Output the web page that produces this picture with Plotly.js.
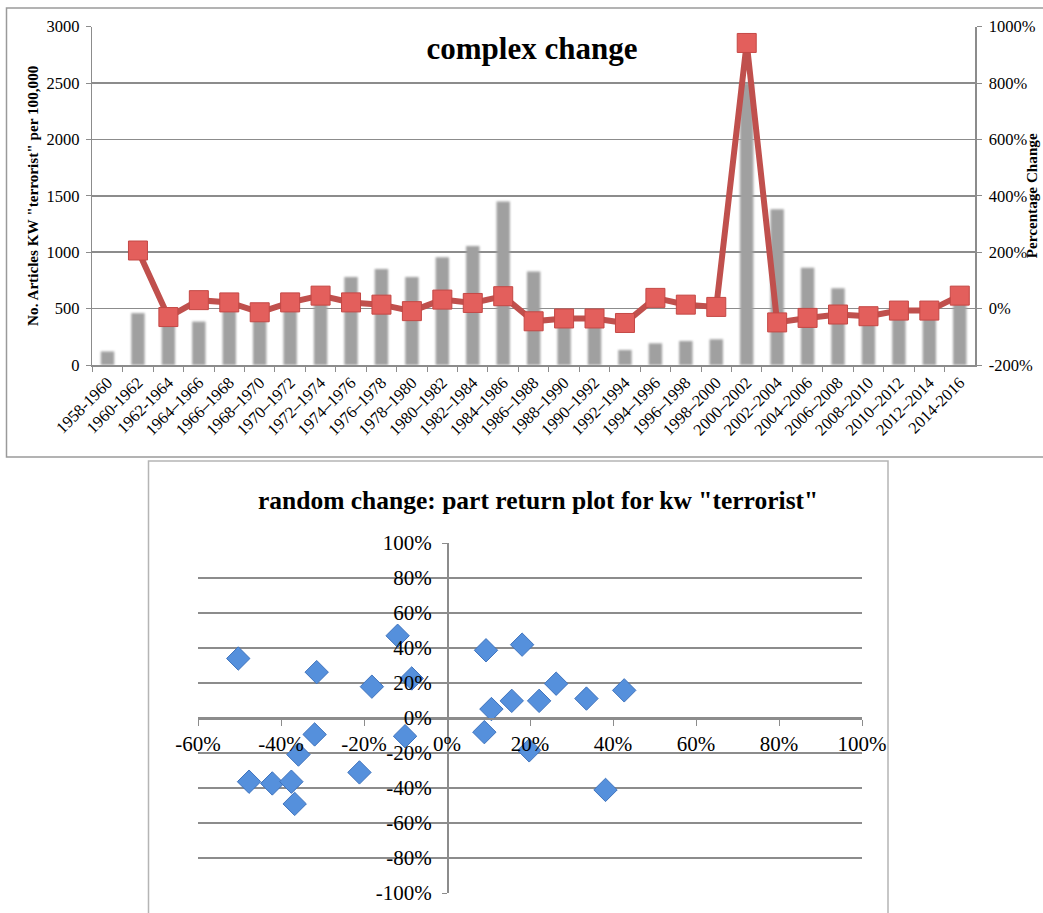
<!DOCTYPE html>
<html>
<head>
<meta charset="utf-8">
<script src="https://cdn.plot.ly/plotly-3.0.1.min.js"></script>
<style>
  html, body { margin: 0; padding: 0; background: #fff; }
  #chart { width: 1043px; height: 913px; }
</style>
</head>
<body>
<div id="chart"></div>
<script>
// ---------- data ----------
const periods = ["1958-1960","1960-1962","1962-1964","1964–1966","1966–1968","1968–1970","1970–1972","1972–1974","1974–1976","1976–1978","1978–1980","1980–1982","1982–1984","1984–1986","1986–1988","1988–1990","1990–1992","1992–1994","1994–1996","1996–1998","1998–2000","2000–2002","2002–2004","2004–2006","2006–2008","2008–2010","2010–2012","2012–2014","2014-2016"];
const articlesPer100k = [120,460,430,385,540,450,530,590,780,850,780,955,1055,1450,830,480,470,133,192,213,228,2500,1380,863,680,430,460,450,580];
const percentChange = [null,206,-30,30,22,-13,22,46,22,14,-9,32,20,44,-45,-35,-35,-51,38,14,6,942,-49,-33,-21,-27,-7,-7,46];

const returnX = [-50.3,-11.9,9.4,18.1,-31.4,-18.1,-8.5,26.3,42.7,15.6,22.2,33.6,10.7,-31.9,-10.1,9.0,-35.8,19.8,-21.1,-47.7,-42.1,-37.5,-36.7,38.2];
const returnY = [34,47,38.7,41.9,26.2,17.9,22.6,19.6,15.8,9.8,9.8,11.1,5.1,-9.4,-10.4,-8.1,-20.9,-18.5,-31.1,-36.4,-37.4,-36.4,-49.1,-41.1];

const returnXTicks = [-60,-40,-20,0,20,40,60,80,100];
const returnXLabels = ["-60%","-40%","-20%","0%","20%","40%","60%","80%","100%"];
const returnYTicks = [-100,-80,-60,-40,-20,0,20,40,60,80,100];
const returnYLabels = ["-100%","-80%","-60%","-40%","-20%","0%","20%","40%","60%","80%","100%"];
const pctTicks = [-200,0,200,400,600,800,1000];
const pctLabels = ["-200%","0%","200%","400%","600%","800%","1000%"];

const topTitle = "complex change";
const bottomTitle = 'random change: part return plot for kw "terrorist"';
const leftAxisTitle = 'No. Articles KW "terrorist" per 100,000';
const rightAxisTitle = 'Percentage Change';

// ---------- layout geometry ----------
const W = 1043, H = 913;
const px = v => v / W;
const py = v => 1 - v / H;
const FONT = "Liberation Serif, Times New Roman, serif";
const GRID = "#8c8c8c";

const topX = [px(92.3), px(975)];
const topY = [py(365), py(26.6)];
const scX = [px(198), px(862)];
const scY = [py(893), py(543)];
const scXRange = [-60, 100];
const scYRange = [-100, 100];

const bars = {
  type: "bar", x: periods, y: articlesPer100k, xaxis: "x", yaxis: "y",
  marker: { color: "#a0a0a0" }, width: 0.44, hoverinfo: "x+y", showlegend: false
};
const line = {
  type: "scatter", mode: "lines+markers", x: periods, y: percentChange,
  xaxis: "x", yaxis: "y2", connectgaps: false, showlegend: false,
  line: { color: "#c0504d", width: 6 },
  marker: { symbol: "square", size: 19, color: "#e35f5c", line: { color: "#c44845", width: 1 } }
};
const pts = {
  type: "scatter", mode: "markers", x: returnX, y: returnY, xaxis: "x3", yaxis: "y3",
  showlegend: false,
  marker: { symbol: "diamond", size: 18, color: "#5590dc", line: { color: "#3f73bd", width: 1 } }
};

const tickFont = { family: FONT, size: 16.5, color: "#000" };
const scFont = { family: FONT, size: 21, color: "#000" };
const layout = {
  width: W, height: H,
  margin: { l: 0, r: 0, t: 0, b: 0 },
  paper_bgcolor: "#fff", plot_bgcolor: "rgba(0,0,0,0)",
  font: { family: FONT, color: "#000" },
  showlegend: false,
  title: { text: topTitle, x: px(532), y: py(48), xanchor: "center", yanchor: "middle",
           font: { family: FONT, size: 31, weight: "bold", color: "#000" } },
  xaxis: {
    domain: topX, anchor: "y", type: "category", range: [-0.5, periods.length - 0.5],
    tickson: "boundaries", ticks: "outside", ticklen: 5, tickcolor: GRID,
    showline: true, linecolor: GRID, linewidth: 1.5, showgrid: false,
    tickangle: -45, tickfont: tickFont
  },
  yaxis: {
    domain: topY, anchor: "x", range: [0, 3000], dtick: 500,
    showgrid: true, gridcolor: GRID, gridwidth: 1.5, zeroline: false,
    showline: true, linecolor: GRID, linewidth: 1.5, ticks: "outside", ticklen: 5, tickcolor: GRID,
    tickfont: tickFont, ticklabelstandoff: 3,
    title: { text: leftAxisTitle, standoff: 4, font: { family: FONT, size: 15.2, weight: "bold", color: "#000" } }
  },
  yaxis2: {
    overlaying: "y", side: "right", anchor: "x", range: [-200, 1000],
    tickvals: pctTicks, ticktext: pctLabels,
    showgrid: false, zeroline: false,
    showline: true, linecolor: GRID, linewidth: 1.5, ticks: "outside", ticklen: 5, tickcolor: GRID,
    tickfont: tickFont, ticklabelstandoff: 4
  },
  xaxis3: {
    domain: scX, range: scXRange, tickvals: returnXTicks, ticktext: returnXLabels, anchor: "free",
    position: scY[0] + (0 - scYRange[0]) / (scYRange[1] - scYRange[0]) * (scY[1] - scY[0]),
    showgrid: false, zeroline: false, showline: true, linecolor: GRID, linewidth: 1.5,
    ticks: "outside", ticklen: 6, tickcolor: GRID,
    tickfont: scFont
  },
  yaxis3: {
    domain: scY, range: scYRange, tickvals: returnYTicks, ticktext: returnYLabels, anchor: "free",
    position: scX[0] + (0 - scXRange[0]) / (scXRange[1] - scXRange[0]) * (scX[1] - scX[0]),
    showgrid: true, gridcolor: GRID, gridwidth: 1.5, zeroline: false,
    showline: true, linecolor: GRID, linewidth: 1.5, ticks: "outside", ticklen: 5, tickcolor: GRID,
    tickfont: scFont, ticklabelstandoff: 6
  },
  annotations: [{
    text: bottomTitle, xref: "paper", yref: "paper", x: px(538), y: py(500),
    xanchor: "center", yanchor: "middle", showarrow: false,
    font: { family: FONT, size: 25.5, weight: "bold", color: "#000" }
  }, {
    text: rightAxisTitle, xref: "paper", yref: "paper", x: px(1042), y: (topY[0] + topY[1]) / 2,
    xanchor: "right", yanchor: "middle", showarrow: false, textangle: -90,
    font: { family: FONT, size: 15.2, weight: "bold", color: "#000" }
  }],
  shapes: [
    { type: "rect", xref: "paper", yref: "paper", x0: px(6.5), x1: px(1060), y0: py(457), y1: py(8),
      line: { color: "#9a9a9a", width: 1.5 }, fillcolor: "rgba(0,0,0,0)", layer: "below" },
    { type: "rect", xref: "paper", yref: "paper", x0: px(148.5), x1: px(888), y0: py(940), y1: py(461),
      line: { color: "#b5b5b5", width: 1.5 }, fillcolor: "rgba(0,0,0,0)", layer: "below" }
  ]
};

Plotly.newPlot("chart", [bars, line, pts], layout, { displayModeBar: false, staticPlot: true }).then(() => {
  document.querySelectorAll(".barlayer .point path").forEach(p => { p.style.filter = "blur(1.2px)"; });
});
</script>
</body>
</html>
